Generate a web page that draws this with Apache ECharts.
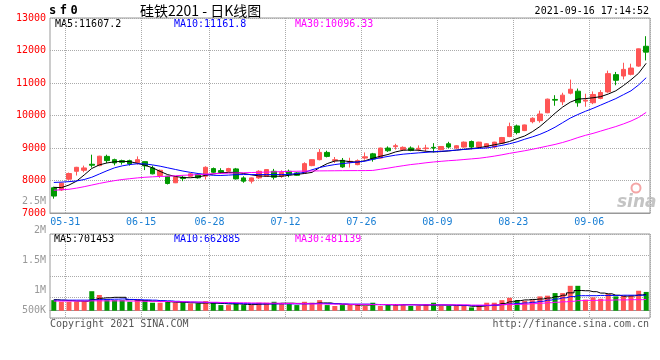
<!DOCTYPE html>
<html><head><meta charset="utf-8">
<script src="https://cdn.jsdelivr.net/npm/echarts@6/dist/echarts.min.js"></script>
<style>html,body{margin:0;padding:0;background:#fff}#c{width:660px;height:360px}</style>
</head><body><div id="c"></div>
<script>
// ---------- data ----------
const dates = ['05-28','05-31','06-01','06-02','06-03','06-04','06-07','06-08','06-09','06-10','06-11','06-15','06-16','06-17','06-18','06-21','06-22','06-23','06-24','06-25','06-28','06-29','06-30','07-01','07-02','07-05','07-06','07-07','07-08','07-09','07-12','07-13','07-14','07-15','07-16','07-19','07-20','07-21','07-22','07-23','07-26','07-27','07-28','07-29','07-30','08-02','08-03','08-04','08-05','08-06','08-09','08-10','08-11','08-12','08-13','08-16','08-17','08-18','08-19','08-20','08-23','08-24','08-25','08-26','08-27','08-30','08-31','09-01','09-02','09-03','09-06','09-07','09-08','09-09','09-10','09-13','09-14','09-15','09-16'];
const tickLabels = ['05-31','06-15','06-28','07-12','07-26','08-09','08-23','09-06'];
const openP  = [7777,7710,8040,8284,8314,8500,8458,8742,8641,8611,8611,8550,8580,8388,8153,8131,7930,8100,8131,8183,8131,8366,8306,8284,8357,8080,7980,8080,8131,8284,8131,8284,8234,8234,8458,8641,8864,8610,8620,8560,8488,8690,8820,8690,8998,9040,8950,9000,8960,8980,9020,8946,9130,8998,9029,9200,9029,9029,9029,9151,9352,9679,9536,9810,9841,10085,10494,10422,10687,10748,10443,10392,10525,10726,11257,11215,11267,11520,12130];
const closeP = [7521,7918,8214,8406,8387,8470,8748,8611,8540,8559,8510,8641,8450,8205,8314,7908,8113,8060,8204,8082,8406,8253,8253,8366,8050,7980,8080,8284,8336,8100,8253,8183,8160,8519,8641,8864,8742,8640,8418,8590,8611,8730,8660,8998,8916,9070,9020,8925,8990,9000,9000,9047,9029,9069,9181,9029,9181,9130,9181,9322,9658,9475,9710,9914,10046,10503,10473,10626,10809,10392,10473,10647,10708,11288,11084,11419,11460,12051,11950];
const lowP   = [7441,7680,8009,8153,8253,8397,8440,8540,8467,8488,8458,8488,8320,8190,8082,7878,7920,7980,8100,8060,8030,8230,8204,8250,8030,7930,7908,8050,8120,8030,8082,8100,8140,8214,8440,8620,8711,8540,8388,8400,8470,8640,8580,8680,8880,8950,8930,8900,8900,8895,8864,8930,8990,8980,9010,8960,9000,9000,8980,9130,9334,9420,9520,9760,9780,10070,10300,10320,10650,10270,10270,10350,10500,10700,10931,11110,11236,11500,11694];
const highP  = [7808,7939,8244,8420,8458,8794,8760,8794,8672,8641,8641,8742,8590,8458,8336,8140,8122,8150,8230,8214,8436,8400,8378,8390,8387,8130,8090,8314,8350,8357,8314,8336,8260,8560,8650,8967,8916,8723,8693,8700,8650,8864,8850,9010,9050,9130,9050,9050,9080,9100,9150,9060,9190,9090,9200,9230,9190,9150,9190,9340,9780,9720,9720,9945,10150,10520,10625,10700,11104,10830,10670,10740,10780,11380,11340,11623,11593,12060,12440];
const ma5  = [7790,7780,7860,7980,8170,8370,8480,8540,8575,8590,8580,8530,8470,8390,8280,8180,8125,8090,8085,8105,8160,8200,8235,8250,8250,8215,8175,8140,8131,8131,8131,8160,8190,8215,8250,8400,8520,8600,8610,8580,8565,8610,8685,8745,8800,8880,8930,8940,8930,8900,8880,8890,8910,8935,8960,8980,9010,9050,9100,9140,9200,9290,9370,9500,9660,9860,10070,10260,10410,10505,10520,10545,10580,10660,10760,10920,11100,11300,11607.2];
const ma10 = [7940,7950,7965,7985,8030,8100,8200,8300,8390,8450,8490,8515,8510,8480,8440,8390,8340,8290,8250,8215,8185,8160,8155,8165,8180,8183,8183,8183,8183,8183,8183,8190,8215,8250,8330,8400,8450,8490,8520,8545,8570,8595,8650,8700,8740,8780,8810,8830,8850,8865,8885,8900,8915,8935,8955,8975,8990,9000,9040,9080,9130,9190,9270,9340,9420,9520,9640,9780,9920,10030,10130,10220,10320,10420,10520,10640,10760,10940,11161.8];
const ma30 = [7700,7715,7730,7765,7810,7860,7910,7955,7995,8030,8055,8080,8100,8113,8125,8131,8145,8160,8170,8180,8195,8210,8218,8225,8232,8238,8245,8252,8258,8265,8272,8280,8285,8290,8293,8296,8298,8300,8302,8304,8305,8305,8310,8345,8380,8420,8455,8490,8515,8545,8570,8590,8610,8625,8645,8665,8685,8715,8750,8790,8835,8875,8915,8960,9010,9060,9110,9170,9240,9320,9390,9450,9520,9590,9660,9740,9830,9940,10096.33];
const volume = [450000,380000,380000,380000,380000,830000,670000,450000,450000,450000,380000,500000,420000,340000,340000,380000,340000,340000,310000,310000,410000,340000,240000,240000,340000,240000,240000,340000,340000,380000,310000,280000,240000,380000,340000,450000,240000,200000,240000,280000,280000,200000,340000,200000,280000,280000,280000,200000,200000,280000,340000,200000,200000,200000,200000,140000,200000,340000,340000,450000,550000,450000,420000,450000,610000,640000,750000,750000,1060000,1060000,470000,570000,510000,710000,610000,640000,640000,850000,800000];
const volMa5  = [470000,450000,430000,410000,400000,480000,530000,550000,570000,570000,470000,440000,430000,410000,400000,380000,360000,350000,340000,320000,330000,320000,310000,290000,290000,270000,260000,280000,290000,300000,320000,320000,310000,310000,310000,330000,330000,300000,270000,260000,240000,240000,260000,260000,260000,250000,260000,260000,240000,240000,240000,240000,240000,220000,220000,190000,190000,220000,250000,310000,380000,430000,460000,480000,500000,540000,600000,660000,760000,860000,850000,810000,750000,720000,660000,620000,630000,670000,701453];
const volMa10 = [450000,450000,450000,450000,450000,460000,470000,480000,490000,500000,480000,470000,460000,450000,430000,420000,400000,380000,370000,360000,350000,340000,330000,320000,310000,300000,300000,290000,290000,290000,290000,290000,290000,290000,300000,310000,310000,300000,290000,280000,280000,280000,270000,260000,250000,250000,250000,250000,250000,250000,250000,250000,240000,240000,230000,220000,220000,220000,230000,260000,290000,310000,330000,360000,400000,450000,500000,550000,600000,640000,640000,640000,650000,650000,650000,660000,660000,660000,662885];
const volMa30 = [410000,410000,410000,410000,410000,420000,420000,420000,420000,420000,410000,410000,400000,400000,390000,390000,380000,380000,370000,370000,360000,360000,350000,350000,340000,340000,330000,330000,320000,320000,310000,310000,300000,300000,290000,290000,280000,280000,280000,270000,270000,270000,260000,260000,260000,260000,250000,250000,250000,250000,250000,250000,250000,250000,250000,240000,240000,240000,250000,260000,260000,270000,280000,300000,320000,340000,360000,380000,400000,430000,440000,440000,450000,450000,460000,460000,470000,470000,481139];
const volTickLabels = ['500K','1M','1.5M','2M','2.5M'];

// ---------- style ----------
const MONO = '"DejaVu Sans Mono","Liberation Mono",monospace';
const RED = '#ff5555', GREEN = '#009900', GRIDC = '#aaaaaa', FRAME = '#999999';
const last = a => a[a.length - 1];
const isTick = v => tickLabels.indexOf(v) >= 0;
const splitFn = i => i > 0 && isTick(dates[i - 1]);

const chart = echarts.init(document.getElementById('c'), null, {renderer: 'canvas'});
const xBase = (gi, labels) => ({
  type: 'category', gridIndex: gi, data: dates, boundaryGap: true,
  axisLine: {show: true, lineStyle: {color: FRAME}},
  axisTick: {show: false},
  axisLabel: labels ? {interval: (i, v) => isTick(v), color: '#1a7fd4', fontFamily: MONO, fontSize: 10, margin: 4, padding: [0, 0, 0, 7.6]} : {show: false},
  splitLine: {show: true, interval: splitFn, lineStyle: {color: GRIDC, type: 'dotted', width: 1}}
});

const txt = (x, y, text, color, extra) => ({
  type: 'text', x: x, y: y, silent: true,
  style: Object.assign({text: text, fill: color, font: '10px ' + MONO, textVerticalAlign: 'middle'}, extra || {})
});

chart.setOption({
  animation: false,
  backgroundColor: '#fff',
  grid: [
    {left: 50, right: 10, top: 18, height: 195, show: true, borderColor: FRAME, borderWidth: 1},
    {left: 50, right: 10, top: 234, height: 84, show: true, borderColor: FRAME, borderWidth: 1},
    {left: 50, right: 10, top: 201, height: 119, show: false}
  ],
  xAxis: [xBase(0, true), xBase(1, false), {type: 'value', gridIndex: 2, show: false, min: 0, max: 1}],
  yAxis: [
    {type: 'value', gridIndex: 0, min: 7000, max: 13000, interval: 1000,
     axisLine: {show: false}, axisTick: {show: false},
     axisLabel: {color: '#ff0000', fontFamily: MONO, fontSize: 10, margin: 4, formatter: v => String(v)},
     splitLine: {show: true, lineStyle: {color: GRIDC, type: 'dotted'}}},
    {type: 'value', gridIndex: 1, min: -310000, max: 3265000,
     axisLine: {show: false}, axisTick: {show: false}, axisLabel: {show: false}, splitLine: {show: false}},
    {type: 'value', gridIndex: 1, min: 0, max: 4, interval: 1, position: 'right',
     axisLine: {show: false}, axisTick: {show: false}, axisLabel: {show: false},
     splitLine: {show: true, lineStyle: {color: GRIDC, type: 'dotted'}}},
    {type: 'value', gridIndex: 2, min: 500000, max: 2500000, interval: 500000,
     axisLine: {show: false}, axisTick: {show: false}, splitLine: {show: false},
     axisLabel: {color: '#999999', fontFamily: MONO, fontSize: 10, margin: 4,
       formatter: v => {
         const s = volTickLabels[Math.round(v / 500000) - 1];
         return v === 500000 ? '{k|' + s + '}' : s;
       },
       rich: {k: {color: '#999999', fontFamily: MONO, fontSize: 10, padding: [0, 0, 19, 0]}}}}
  ],
  series: [
    {type: 'candlestick', xAxisIndex: 0, yAxisIndex: 0, barWidth: 5,
     data: dates.map((d, i) => [openP[i], closeP[i], lowP[i], highP[i]]),
     itemStyle: {color: RED, color0: GREEN, borderColor: RED, borderColor0: GREEN, borderWidth: 1}},
    {type: 'line', xAxisIndex: 0, yAxisIndex: 0, data: ma5, symbol: 'none', lineStyle: {color: '#000', width: 1}},
    {type: 'line', xAxisIndex: 0, yAxisIndex: 0, data: ma10, symbol: 'none', lineStyle: {color: '#0000ff', width: 1}},
    {type: 'line', xAxisIndex: 0, yAxisIndex: 0, data: ma30, symbol: 'none', lineStyle: {color: '#ff00ff', width: 1}},
    {type: 'bar', xAxisIndex: 1, yAxisIndex: 1, barWidth: 5,
     data: volume.map((v, i) => ({value: v, itemStyle: {color: closeP[i] >= openP[i] ? RED : GREEN}}))},
    {type: 'line', xAxisIndex: 1, yAxisIndex: 1, data: volMa5, step: 'middle', symbol: 'none', lineStyle: {color: '#000', width: 1}},
    {type: 'line', xAxisIndex: 1, yAxisIndex: 1, data: volMa10, step: 'middle', symbol: 'none', lineStyle: {color: '#0000ff', width: 1}},
    {type: 'line', xAxisIndex: 1, yAxisIndex: 1, data: volMa30, step: 'middle', symbol: 'none', lineStyle: {color: '#ff00ff', width: 1}}
  ],
  graphic: [
    {type: 'text', left: 49, top: 5, silent: true, style: {
      text: '{a|s}{a|f}{b|0}', rich: {
        a: {font: 'bold 12px ' + MONO, fill: '#000', padding: [0, 3.5, 0, 0]},
        b: {font: 'bold 12px ' + MONO, fill: '#000'}}}},
    txt(140, 11, '硅铁2201 - 日K线图', '#000', {font: '14px "Noto Sans CJK SC", sans-serif'}),
    txt(649, 11, '2021-09-16 17:14:52', '#000', {textAlign: 'right'}),
    txt(55, 24, 'MA5:' + last(ma5), '#000'),
    txt(174, 24, 'MA10:' + last(ma10), '#0000ff'),
    txt(295, 24, 'MA30:' + last(ma30), '#ff00ff'),
    txt(54, 239, 'MA5:' + last(volMa5), '#000'),
    txt(174, 239, 'MA10:' + last(volMa10), '#0000ff'),
    txt(295, 239, 'MA30:' + last(volMa30), '#ff00ff'),
    txt(50, 324, 'Copyright 2021 SINA.COM', '#555'),
    txt(649, 324, 'http://finance.sina.com.cn', '#555', {textAlign: 'right'}),
    {type: 'circle', silent: true, shape: {cx: 636, cy: 188, r: 4.5}, style: {fill: 'none', stroke: '#f4a6a6', lineWidth: 2}},
    txt(617, 203, 'sina', '#c4c4c4', {font: 'italic bold 17px "DejaVu Sans", sans-serif'})
  ]
});
</script></body></html>
